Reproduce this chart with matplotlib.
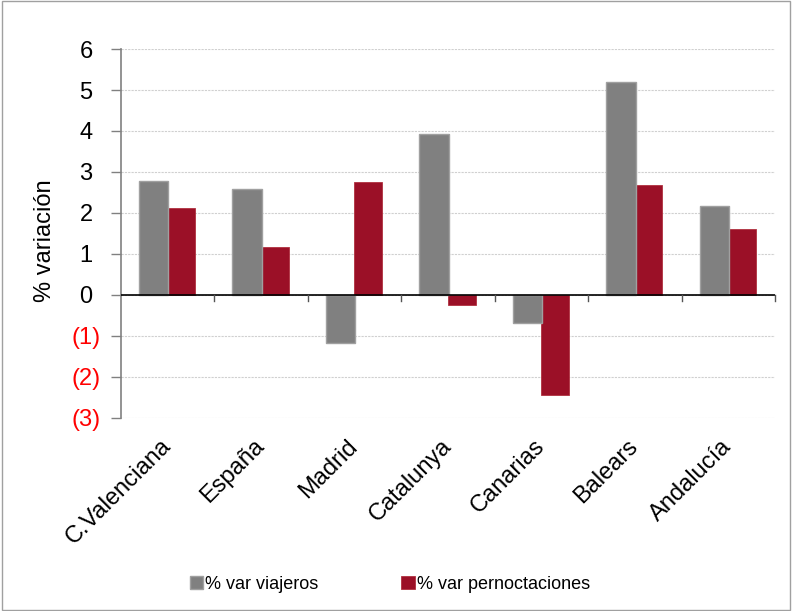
import matplotlib
matplotlib.use("Agg")
import matplotlib.pyplot as plt
import numpy as np
from matplotlib.patches import Rectangle

plt.rcParams['font.family'] = ['Liberation Sans', 'DejaVu Sans']

categories = ["C.Valenciana", "España", "Madrid", "Catalunya", "Canarias", "Balears", "Andalucía"]
viajeros = [2.79, 2.58, -1.18, 3.93, -0.68, 5.19, 2.17]
pernoctaciones = [2.12, 1.17, 2.76, -0.24, -2.44, 2.68, 1.62]
series_names = ["% var viajeros", "% var pernoctaciones"]
yticks = [-3, -2, -1, 0, 1, 2, 3, 4, 5, 6]

gray = "#808080"
red = "#9b1027"

fig = plt.figure(figsize=(7.92, 6.11), dpi=100)
ax = fig.add_axes([0.1528, 0.3159, 0.8257, 0.6039])

x = np.arange(len(categories))
w = 0.3
ax.bar(x + 0.145, pernoctaciones, w, color=red, edgecolor="#b0303f", linewidth=0.6, zorder=3,
       label=series_names[1])
ax.bar(x - 0.15, viajeros, w * 1.05, color=gray, edgecolor="#a0a0a0", linewidth=1.0, zorder=4,
       label=series_names[0])

ax.set_xlim(-0.5, len(categories) - 0.5)
ax.set_ylim(-3, 6)
ax.set_yticks(yticks)
ax.set_yticklabels([f"({-t})" if t < 0 else f"{t} " for t in yticks], fontsize=17)
for lbl, t in zip(ax.get_yticklabels(), yticks):
    lbl.set_color("#ff0000" if t < 0 else "black")

ax.yaxis.grid(True, linestyle=(0, (2, 1)), color="#d0d0d0", linewidth=0.8, zorder=0)
ax.set_axisbelow(True)

for s in ["top", "right", "bottom"]:
    ax.spines[s].set_visible(False)
ax.spines["left"].set_color("#808080")
ax.spines["left"].set_linewidth(1.2)
ax.tick_params(axis="y", direction="out", length=7, color="#808080", width=1, pad=8)

ax.axhline(0, color="black", linewidth=1.2, zorder=5)
for b in np.arange(0.5, len(categories), 1.0):
    ax.plot([b, b], [0, -0.15], color="#555555", linewidth=1, zorder=5, clip_on=False)

ax.set_xticks(x)
ax.set_xticklabels(categories, rotation=45, ha="right", va="center", rotation_mode="anchor", fontsize=17)
ax.tick_params(axis="x", length=0, pad=18)

ax.set_ylabel("% variación", fontsize=17)
ax.yaxis.set_label_coords(-0.1, 0.48)

handles, labels = ax.get_legend_handles_labels()
leg = fig.legend(handles[::-1], labels[::-1], loc="center", bbox_to_anchor=(0.492, 0.044), ncol=2,
                 frameon=False, fontsize=13, handlelength=0.75, handleheight=0.75,
                 handletextpad=0.1, columnspacing=4.6)

fig.patches.append(Rectangle((0.002, 0.002), 0.996, 0.996, transform=fig.transFigure,
                             fill=False, edgecolor="#a0a0a0", linewidth=1))

fig.savefig("out.png", dpi=100)
